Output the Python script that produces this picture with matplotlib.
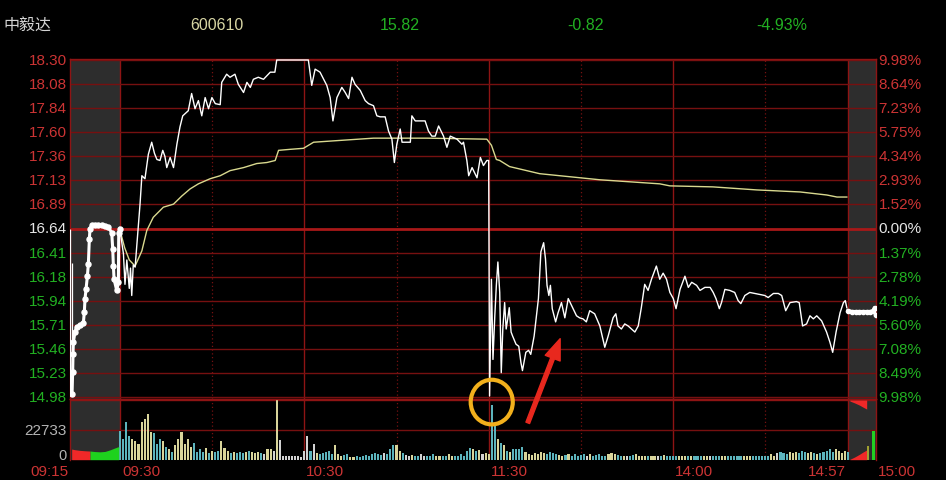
import numpy as np
import matplotlib
matplotlib.use("Agg")
import matplotlib.pyplot as plt
import matplotlib.transforms as mtransforms
from matplotlib.patches import Ellipse, FancyArrowPatch

plt.rcParams['font.family'] = ['Liberation Sans', 'Noto Sans CJK SC', 'DejaVu Sans']

# ---------------- header ----------------
stock_name = "中毅达"
stock_code = "600610"
last_price = "15.82"
change_abs = "-0.82"
change_pct = "-4.93%"

# ---------------- axis labels ----------------
prev_close = 16.64
price_labels = ["18.30", "18.08", "17.84", "17.60", "17.36", "17.13", "16.89", "16.64",
                "16.41", "16.18", "15.94", "15.71", "15.46", "15.23", "14.98"]
pct_labels = ["9.98%", "8.64%", "7.23%", "5.75%", "4.34%", "2.93%", "1.52%", "0.00%",
              "1.37%", "2.78%", "4.19%", "5.60%", "7.08%", "8.49%", "9.98%"]
time_labels = ["09:15", "09:30", "10:30", "11:30", "14:00", "14:57", "15:00"]
vol_label = "22733"
vol_mid = 22.733  # thousands

# ---------------- pre-open auction (minutes after 09:15) ----------------
pre_t = [0.6, 0.8, 0.9, 1.0, 1.5, 2.0, 3.0, 4.0, 4.3, 4.5, 4.8, 5.2, 5.5, 5.8, 6.0, 6.5,
         7.5, 8.5, 9.5, 10.5, 11.5, 12.5, 12.8, 13.0, 13.2, 14.0, 14.5, 14.6, 15.0]
pre_p = [15.01, 15.23, 15.40, 15.52, 15.62, 15.67, 15.69, 15.71, 15.82, 15.95, 16.04, 16.17,
         16.29, 16.54, 16.64, 16.67, 16.67, 16.67, 16.67, 16.66, 16.65, 16.60, 16.44, 16.27,
         16.14, 16.03, 16.11, 16.60, 16.64]
pre_range_t = [0.1, 0.45]
pre_range_lo = [14.99, 14.99]
pre_range_hi = [16.64, 16.30]
auc_t = [0.5, 1.5, 3.0, 4.5, 6.0, 6.0, 7.5, 9.0, 10.5, 12.0, 13.5, 14.6]
auc_v = [8.1, 7.6, 7.1, 6.8, 6.6, 6.6, 6.2, 6.0, 6.3, 7.5, 9.0, 10.0]
auc_side = ['r', 'r', 'r', 'r', 'r', 'g', 'g', 'g', 'g', 'g', 'g', 'g']

# ---------------- continuous session (minutes after 09:30; 13:00 == 120) ----------------
sess_t = [0, 1.1, 1.6, 2.2, 3.0, 3.4, 3.8, 4.3, 4.9, 6.5, 7.1, 8.1, 9.2, 10.3, 11.2, 12.0, 13.0,
          13.9, 14.6, 15.2, 16.3, 17.4, 18.5, 19.5, 20.4, 22.2, 23.3, 24.4, 25.5, 26.6, 27.7,
          28.8, 29.9, 31.0, 32.6, 33.1, 34.7, 35.8, 37.4, 38.5, 40.2, 41.3, 42.4, 43.4, 45.0,
          46.7, 48.9, 50.4, 51.0, 61.3, 62.4, 63.5, 65.1, 67.3, 68.4, 69.3, 70.6, 72.2, 73.3,
          74.4, 75.5, 76.5, 78.2, 79.8, 80.9, 82.5, 83.6, 84.7, 86.3, 87.4, 88.5, 89.3, 90.1,
          91.2, 91.8, 94.5, 95.0, 96.1, 99.3, 100.4, 101.5, 102.6, 103.7, 105.3, 106.4, 107.5,
          109.7, 111.3, 111.8, 112.9, 113.5, 114.6, 116.2, 117.3, 118.3, 119.4, 120.0,
          120.3, 120.9, 121.4, 122.0, 122.5, 123.0, 123.6, 124.1, 124.6, 125.2, 125.7, 126.2,
          126.7, 127.3, 127.8, 128.9, 129.8, 130.5, 131.0, 132.1, 133.0, 133.7, 134.8, 136.2,
          137.0, 137.9, 138.5, 139.0, 139.6, 140.1, 140.7, 141.8, 142.6, 143.7, 144.8, 145.9,
          147.0, 148.6, 149.6, 150.7, 151.8, 152.9, 154.5, 156.2, 157.8, 158.9, 160.5, 161.4,
          162.1, 163.2, 164.3, 165.4, 166.5, 167.6, 168.7, 169.7, 170.8, 171.9, 173.0, 174.6,
          175.7, 176.8, 177.9, 179.0, 180.1, 181.0, 182.3, 183.9, 185.0, 186.1, 187.7, 188.8,
          190.4, 192.1, 193.1, 194.0, 195.1, 195.8, 196.9, 198.5, 200.1, 201.2, 202.1, 203.4,
          205.0, 206.7, 208.3, 209.9, 211.0, 212.7, 214.3, 215.4, 216.7, 218.1, 220.2, 221.1,
          222.2, 223.5, 224.6, 225.7, 226.8, 228.4, 230.0, 231.1, 232.0, 233.1, 234.4, 235.5,
          236.1, 236.6]
sess_p = [16.62, 16.39, 16.09, 16.33, 16.05, 16.25, 15.98, 16.28, 16.26, 16.88, 17.16, 17.13,
          17.37, 17.49, 17.38, 17.32, 17.31, 17.41, 17.35, 17.24, 17.34, 17.24, 17.47, 17.64,
          17.75, 17.80, 17.97, 17.82, 17.90, 17.75, 17.93, 17.82, 17.93, 17.87, 17.86, 18.08,
          18.16, 18.13, 18.16, 18.06, 17.98, 18.08, 18.03, 18.11, 18.13, 18.11, 18.18, 18.18,
          18.30, 18.30, 18.05, 18.21, 18.18, 18.05, 17.93, 17.70, 17.93, 18.03, 17.98, 17.92,
          18.13, 18.06, 18.00, 17.90, 17.87, 17.85, 17.75, 17.74, 17.74, 17.60, 17.52, 17.29,
          17.47, 17.62, 17.49, 17.49, 17.75, 17.70, 17.70, 17.60, 17.55, 17.55, 17.65, 17.55,
          17.44, 17.55, 17.52, 17.47, 17.49, 17.31, 17.16, 17.24, 17.14, 17.34, 17.26, 17.31,
          17.31,
          14.99, 16.14, 15.35, 15.78, 16.08, 16.31, 16.01, 15.22, 15.65, 15.91, 15.65, 15.75,
          15.86, 15.62, 15.58, 15.50, 15.48, 15.32, 15.24, 15.42, 15.44, 15.40, 15.58, 15.95,
          16.41, 16.50, 16.34, 16.08, 15.98, 16.08, 15.85, 15.72, 15.81, 15.91, 15.76, 15.95,
          15.88, 15.78, 15.76, 15.75, 15.72, 15.83, 15.80, 15.68, 15.47, 15.58, 15.76, 15.80,
          15.68, 15.65, 15.70, 15.68, 15.65, 15.62, 15.68, 15.86, 16.09, 16.03, 16.14, 16.27,
          16.14, 16.20, 16.14, 16.01, 15.95, 15.85, 16.04, 16.17, 16.06, 16.11, 16.08, 16.03,
          16.06, 16.06, 16.01, 15.95, 15.85, 15.91, 16.04, 16.03, 16.01, 15.93, 15.90, 15.98,
          16.01, 16.00, 15.99, 15.98, 15.96, 16.00, 16.00, 15.98, 15.83, 15.91, 15.92, 15.91,
          15.68, 15.70, 15.78, 15.75, 15.78, 15.73, 15.62, 15.52, 15.42, 15.62, 15.81, 15.91,
          15.93, 15.86]

avg_t = [0, 1.5, 3.0, 4.9, 7.1, 8.7, 10.8, 14.1, 17.4, 20.1, 22.8, 25.5, 29.3, 32.6, 35.8,
         40.2, 44.5, 47.8, 50.5, 51.6, 55.4, 59.7, 61.9, 63.0, 72.7, 82.5, 100.0, 119.4,
         120.9, 122.5, 123.6, 126.8, 136.6, 156.2, 175.7, 179.0, 193.0, 207.3, 221.4, 230.1,
         233.4, 236.6]
avg_p = [16.62, 16.45, 16.33, 16.27, 16.42, 16.62, 16.75, 16.85, 16.88, 16.96, 17.03, 17.08,
         17.13, 17.16, 17.21, 17.24, 17.28, 17.29, 17.31, 17.41, 17.42, 17.43, 17.47, 17.49,
         17.51, 17.53, 17.53, 17.52, 17.46, 17.32, 17.31, 17.25, 17.18, 17.12, 17.08, 17.06,
         17.05, 17.02, 17.00, 16.97, 16.95, 16.95]

# ---------------- closing auction (minutes after 14:57) ----------------
close_t = [0.0, 0.4, 0.8, 1.2, 1.6, 2.0, 2.4, 2.7, 2.85, 2.95]
close_p = [15.83, 15.82, 15.82, 15.82, 15.82, 15.82, 15.82, 15.83, 15.86, 15.79]
cauc_t = [0.2, 0.7, 1.2, 1.6, 2.0]
cauc_v = [0.3, 2.0, 4.0, 5.8, 7.4]
cauc_top = [0.8, 2.2, 3.8, 5.4, 6.9]
cbar_t = [2.15, 2.7]
cbar_v = [10.7, 22.0]

# ---------------- volume (thousands), one per minute ----------------
vol_am = [22, 16, 29, 18, 16, 14, 12, 29, 31, 35, 21, 20, 12, 16, 14, 10, 8, 6, 11, 16,
          21, 12, 16, 10, 13, 6, 8, 6, 9, 5, 7, 6, 7, 14, 9, 7, 5, 6, 5, 6,
          5, 6, 7, 6, 5, 6, 5, 4, 8, 8, 7, 46, 15, 3, 2.5, 2.5, 2.5, 3, 2.5, 2,
          7, 18, 7, 12, 5, 4, 5, 6, 7, 4, 11, 4, 3, 3.5, 4, 2, 2, 3, 2, 3,
          3.5, 3, 4, 5, 4, 3.5, 5, 4, 8, 11, 11, 7, 5, 3.5, 3, 3.5, 3, 3, 4, 3,
          2.5, 3, 4, 3, 3, 2.5, 3, 4, 3, 3, 3, 4, 3, 7, 9, 8, 7, 7.5, 4, 5, 4]
vol_pm = [42, 26, 16, 13, 11, 7, 6, 8, 8, 8.5, 10, 5.5, 4.5, 3.5, 5, 4.5, 6, 5, 4.5, 6,
          5, 4.5, 3.5, 3, 3.5, 4, 3, 4, 3, 3.5, 4, 3, 4, 3, 3.5, 4, 3, 3, 4, 5,
          4, 3.5, 3, 2.5, 3, 3, 3.5, 4, 3, 3, 2.5, 3, 2.5, 3, 2.5, 3, 3.5, 2.5, 3, 2.5,
          2.5, 3, 2.5, 2.5, 3, 2.5, 2.5, 2.5, 2.5, 3, 2.5, 2.5, 2.5, 2.5, 3, 2.5, 2.5, 2.5, 3, 2.5,
          2.5, 3, 2.5, 2.5, 3, 2.5, 2.5, 3, 2.5, 3, 3, 4, 3, 5, 6, 5, 4, 6, 5, 6,
          5, 7, 6, 5, 6, 5, 4.5, 5, 6, 7, 8, 6, 8, 7, 5, 7, 6]

# ---------------- layout helpers ----------------
W, H = 946, 481
PRE_W = 16.3          # width of the 09:15 auction zone in session-minute units
SESSION_END = 237.0   # 14:57
CLOSE_W = 9.1         # width of the closing-auction zone

def pre_x(t):
    return -PRE_W + np.asarray(t, float) * PRE_W / 15.0

def close_x(t):
    return SESSION_END + np.asarray(t, float) * CLOSE_W / 3.0

GRID = '#761010'
GRID2 = '#8e1414'
RED_T = '#cc3434'
GREEN_T = '#22b022'
GRAY_ZONE = '#2d2d2d'

fig = plt.figure(figsize=(W / 100, H / 100), dpi=100, facecolor='black')
X0, X1 = 70, 876
ax = fig.add_axes([X0 / W, 1 - 400 / H, (X1 - X0) / W, 340 / H])
axv = fig.add_axes([X0 / W, 1 - 461 / H, (X1 - X0) / W, 61 / H])
ax.set_zorder(3)
for a in (ax, axv):
    a.set_facecolor('none')
    a.set_xlim(-PRE_W, SESSION_END + CLOSE_W)
    a.set_xticks([])
    a.set_yticks([])
    for s in a.spines.values():
        s.set_color(GRID2)
        s.set_linewidth(1.0)
    a.axvspan(-PRE_W, 0, color=GRAY_ZONE, lw=0, zorder=0)
    a.axvspan(SESSION_END, SESSION_END + CLOSE_W, color=GRAY_ZONE, lw=0, zorder=0)
    for xv in (0, 60, 120, 180, SESSION_END):
        a.axvline(xv, color=GRID2, lw=1.0, zorder=1)
    for xv in (30, 90, 150, 210):
        a.axvline(xv, color=GRID, lw=0.9, ls=(0, (1, 2)), zorder=1)
axv.spines['bottom'].set_visible(False)

# price axis scale
pk = 3.32 / 337.0
ax.set_ylim(18.30 - 339 * pk, 18.30 + 1 * pk)
levels = np.linspace(float(price_labels[-1]), float(price_labels[0]), len(price_labels))[::-1]
for i, lv in enumerate(levels):
    if price_labels[i] == f"{prev_close:.2f}":
        ax.axhline(lv, color='#a81818', lw=2.0, zorder=1)
    else:
        ax.axhline(lv, color=GRID, lw=1.0, zorder=1)

blend_l = mtransforms.blended_transform_factory(ax.transAxes, ax.transData)
for i, lv in enumerate(levels):
    v = float(price_labels[i])
    col = '#e6e6e6' if abs(v - prev_close) < 1e-9 else (RED_T if v > prev_close else GREEN_T)
    ax.text(-0.004, lv, price_labels[i], transform=blend_l, ha='right', va='center',
            color=col, fontsize=11, clip_on=False)
    ax.text(1.003, lv, pct_labels[i], transform=blend_l, ha='left', va='center',
            color=col, fontsize=11, clip_on=False)

# pre-open auction price
ax.vlines(pre_x(pre_range_t), pre_range_lo, pre_range_hi, color='white', lw=0.9, zorder=4)
ax.plot(pre_x(pre_t), pre_p, color='white', lw=2.2, marker='o', ms=3.6, zorder=5)
# continuous session
ax.plot(avg_t, avg_p, color='#d9d98f', lw=1.0, zorder=4)
ax.plot(sess_t, sess_p, color='white', lw=1.0, zorder=5)
# closing auction
ax.plot(close_x(close_t), close_p, color='white', lw=2.6, marker='o', ms=3.0, zorder=5)

# annotations
ax.add_patch(Ellipse((121.0, 14.93), width=13.7, height=0.44, fill=False,
                     ec='#f2b01c', lw=3.0, clip_on=False, zorder=10))
ax.add_patch(FancyArrowPatch((132.4, 14.70), (143.6, 15.58),
                             arrowstyle='simple,head_width=1.15,head_length=1.5,tail_width=0.28',
                             mutation_scale=10, color='#e8281e', clip_on=False, zorder=10))

# ---------------- volume panel ----------------
vk = 45.466 / 59.7
axv.set_ylim(-0.3 * vk, 60.7 * vk)
axv.axhline(vol_mid, color=GRID, lw=1.0, zorder=1)
axv.axhline(2 * vol_mid, color=GRID2, lw=1.0, zorder=1)

m_am = np.arange(0, len(vol_am))
m_pm = np.arange(121, 121 + len(vol_pm))
mins = np.concatenate([m_am, m_pm]).astype(float)
vols = np.array(vol_am + vol_pm, float)
price_at = np.interp(mins, sess_t, sess_p)
prev = np.concatenate([[prev_close], price_at[:-1]])
prev[len(vol_am)] = sess_p[sess_t.index(120.0)]
cols = []
for p, q in zip(price_at, prev):
    if p > q + 0.004:
        cols.append('#d8d49a')
    elif p < q - 0.004:
        cols.append('#5cb4bd')
    else:
        cols.append('#d2d2d2')
axv.bar(mins, vols, width=0.68, color=cols, lw=0, zorder=3)

# auction volume areas
at = np.array(auc_t); av = np.array(auc_v); side = np.array(auc_side)
rm = side == 'r'; gm = side == 'g'
axv.fill_between(pre_x(at[rm]), 0, av[rm], color='#f02828', lw=0, zorder=3)
axv.fill_between(pre_x(at[gm]), 0, av[gm], color='#1ed21e', lw=0, zorder=3)
axv.fill_between(close_x(cauc_t), 0, cauc_v, color='#f02828', lw=0, zorder=3)
axv.fill_between(close_x(cauc_t), 2 * vol_mid, 2 * vol_mid - np.array(cauc_top),
                 color='#f02828', lw=0, zorder=3)
axv.bar(close_x(cbar_t), cbar_v, width=0.9, color=['#a0a030', '#22d022'], lw=0, zorder=3)

blend_v = mtransforms.blended_transform_factory(axv.transAxes, axv.transData)
axv.text(-0.004, vol_mid, vol_label, transform=blend_v, ha='right', va='center',
         color='#b4b4b4', fontsize=11, clip_on=False)
blend_vf = mtransforms.blended_transform_factory(axv.transAxes, fig.transFigure)
axv.text(-0.004, 1 - 456.5 / H, "0", transform=blend_vf, ha='right', va='center',
         color='#b4b4b4', fontsize=10.5, clip_on=False)

# time labels
tpos = [(-PRE_W, 'right'), (0, 'left'), (60, 'left'), (120, 'left'), (180, 'left'),
        (SESSION_END, 'right'), (SESSION_END + CLOSE_W, 'left')]
blend_t = mtransforms.blended_transform_factory(axv.transData, fig.transFigure)
for lab, (xp, ha) in zip(time_labels, tpos):
    off = 0.6 if ha == 'left' else -0.6
    axv.text(xp + off, 1 - 472.5 / H, lab, transform=blend_t, ha=ha, va='center',
             color=RED_T, fontsize=11, clip_on=False)

# header
hy = 1 - 26 / H
fig.text(3 / W, hy, stock_name, color='#d4d4d4', fontsize=11.5, va='center', ha='left',
         family=['Noto Sans CJK SC', 'DejaVu Sans'])
fig.text(190 / W, hy, stock_code, color='#d8d6a4', fontsize=11.5, va='center', ha='left')
fig.text(380 / W, hy, last_price, color=GREEN_T, fontsize=11.5, va='center', ha='left')
fig.text(567 / W, hy, change_abs, color=GREEN_T, fontsize=11.5, va='center', ha='left')
fig.text(756 / W, hy, change_pct, color=GREEN_T, fontsize=11.5, va='center', ha='left')

fig.savefig('out.png', dpi=100, facecolor='black')
